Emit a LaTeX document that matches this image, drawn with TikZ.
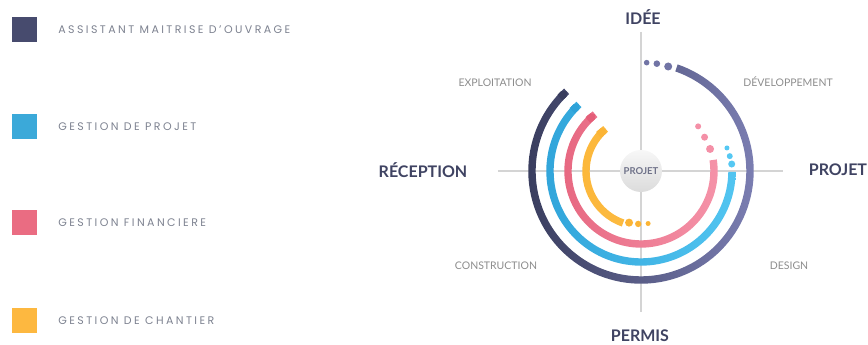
\documentclass[tikz,border=0pt]{standalone}
\usepackage{fontspec}
\setmainfont{Lato}
\newfontfamily\legfont[LetterSpace=22]{Poppins}
\usetikzlibrary{positioning, arrows.meta}

\definecolor{navyL}{HTML}{393D5E}
\definecolor{navyR}{HTML}{7B7EB2}
\definecolor{blueL}{HTML}{2EA2D8}
\definecolor{blueR}{HTML}{55C8F3}
\definecolor{pinkL}{HTML}{E45E78}
\definecolor{pinkR}{HTML}{F89DB2}
\definecolor{yelL}{HTML}{FBB435}
\definecolor{yelR}{HTML}{FDC24E}
\definecolor{legnavy}{HTML}{474B6E}
\definecolor{legblue}{HTML}{3BA9D9}
\definecolor{legpink}{HTML}{EA6C82}
\definecolor{legyel}{HTML}{FDB840}
\definecolor{titlenavy}{HTML}{3F4362}
\definecolor{labgray}{HTML}{8C8C8C}
\definecolor{leggray}{HTML}{7D8290}
\definecolor{axisgray}{HTML}{D4D4D4}

\begin{document}
\begin{tikzpicture}[x=1pt, y=1pt,
  axis/.style={draw=axisgray, line width=1.2pt},
  phase/.style={font=\bfseries\fontsize{16}{16}\selectfont, text=titlenavy, inner sep=0},
  stage/.style={font=\fontsize{10.5}{11}\selectfont, text=labgray, inner sep=0},
  legsq/.style={minimum size=25pt, inner sep=0},
  legtxt/.style={font=\legfont\fontsize{11}{11}\selectfont, text=leggray, inner sep=0}]
  \useasboundingbox (-641,-174) rectangle (227,171);

  % legend
  \node[legsq, fill=legnavy] (amo) at (-616.5,141) {};
  \node[legsq, fill=legblue] (gp) at (-616.5,44) {};
  \node[legsq, fill=legpink] (gf) at (-616.5,-52) {};
  \node[legsq, fill=legyel] (gc) at (-616.5,-150) {};
  \node[legtxt, right=21pt of amo] (amotxt) {ASSISTANT MAITRISE D’OUVRAGE};
  \node[legtxt, right=21pt of gp] (gptxt) {GESTION DE PROJET};
  \node[legtxt, right=21pt of gf] (gftxt) {GESTION FINANCIERE};
  \node[legtxt, right=21pt of gc] (gctxt) {GESTION DE CHANTIER};

  % axes
  \draw[axis] (-143,0) -- (142,0);
  \draw[axis] (0,139) -- (0,-141);

  % rings
  \foreach \r/\a/\b/\cl/\cr in {109/71/-227/navyL/navyR, 91/-0.6/-227/blueL/blueR,
                                 73/8.7/-231/pinkL/pinkR, 55/251/130/yelL/yelR}{
    \begin{scope}
      \clip (\a:\r+3.7) arc[start angle=\a, end angle=\b, radius=\r+3.7]
        -- (\b:\r-3.7) arc[start angle=\b, end angle=\a, radius=\r-3.7] -- cycle;
      \shade[left color=\cl, right color=\cr] (-115,-115) rectangle (115,115);
    \end{scope}
    \draw[\cl, line width=7.4pt, -{Triangle Cap}] (\b+3:\r) arc[start angle=\b+3, end angle=\b, radius=\r];
  }

  % dots
  \fill[navyR!85!navyL] (75.4:108) circle (4);
  \fill[navyR!85!navyL] (81.6:108.5) circle (3.3);
  \fill[navyR!85!navyL] (87:108.5) circle (2.8);
  \fill[blueR] (4.4:91) circle (3.5);
  \fill[blueR] (9.5:90) circle (3);
  \fill[blueR] (15:89) circle (2.5);
  \fill[pinkR!80!pinkL] (17.7:72.5) circle (4);
  \fill[pinkR!80!pinkL] (28:72) circle (3.5);
  \fill[pinkR!80!pinkL] (38:72.5) circle (3);
  \fill[yelL] (257:53) circle (4);
  \fill[yelL] (267:53) circle (3.2);
  \fill[yelL] (277.7:53) circle (2.5);

  % centre
  \node[circle, minimum size=42pt, inner sep=0, top color=gray!6, bottom color=gray!28,
        font=\bfseries\fontsize{9.5}{10}\selectfont, text=titlenavy!75] (projet) at (0,0) {PROJET};

  % phases
  \node[phase] (idee) at (2,154) {IDÉE};
  \node[phase] (reception) at (-218,1) {RÉCEPTION};
  \node[phase] (projetr) at (197,1) {PROJET};
  \node[phase] (permis) at (-1,-165) {PERMIS};
  \node[stage] (exploit) at (-146,88) {EXPLOITATION};
  \node[stage] (dev) at (147,89) {DÉVELOPPEMENT};
  \node[stage] (constr) at (-145,-95) {CONSTRUCTION};
  \node[stage] (design) at (148,-95) {DESIGN};
\end{tikzpicture}
\end{document}
